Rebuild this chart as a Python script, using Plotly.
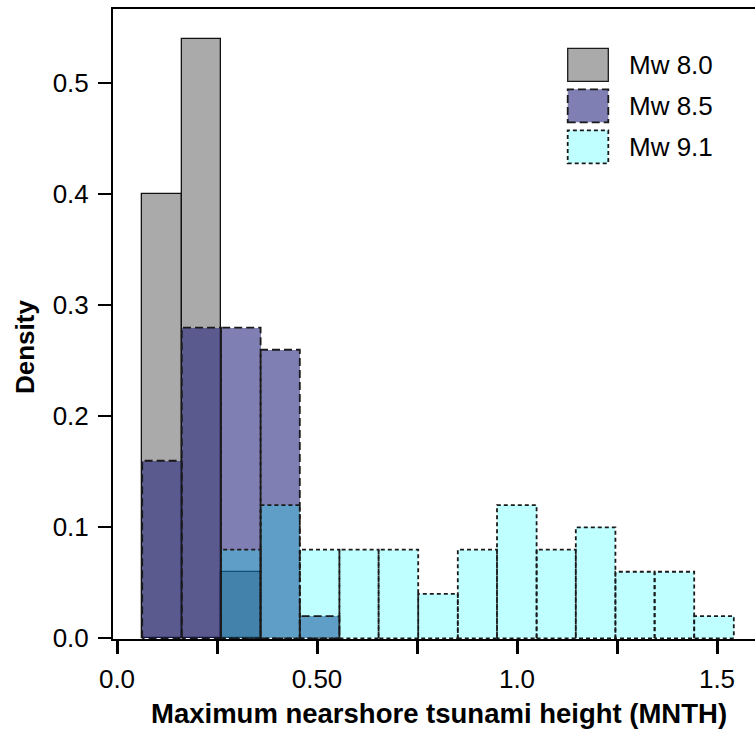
import plotly.graph_objects as go

# ---- data ----
bin_edges = [0.063, 0.162, 0.260, 0.359, 0.457, 0.556, 0.654, 0.753,
             0.852, 0.950, 1.049, 1.147, 1.246, 1.344, 1.443, 1.542]
mw80 = [0.40, 0.54, 0.06, 0, 0, 0, 0, 0, 0, 0, 0, 0, 0, 0, 0]
mw85 = [0.16, 0.28, 0.28, 0.26, 0.02, 0, 0, 0, 0, 0, 0, 0, 0, 0, 0]
mw91 = [0, 0, 0.08, 0.12, 0.08, 0.08, 0.08, 0.04, 0.08, 0.12, 0.08, 0.10, 0.06, 0.06, 0.02]
series_names = ["Mw 8.0", "Mw 8.5", "Mw 9.1"]
x_tickvals = [0, 0.25, 0.5, 0.75, 1.0, 1.25, 1.5]
x_ticktext = ["0.0", "", "0.50", "", "1.0", "", "1.5"]
y_tickvals = [0, 0.1, 0.2, 0.3, 0.4, 0.5]
y_ticktext = ["0.0", "0.1", "0.2", "0.3", "0.4", "0.5"]

# ---- styles ----
FONT = "Liberation Sans, Arial, Helvetica, sans-serif"
fills = ["#aaaaaa", "rgba(26,26,121,0.56)", "rgba(0,255,255,0.25)"]
dashes = ["solid", "8px,4px", "4px,3px"]
W, H = 755, 734
L, R, T, B = 113, 755, 9, 639  # plot area in pixels


def bars_for(vals):
    xs, ys, ws = [], [], []
    for i, v in enumerate(vals):
        if v > 0:
            l, r = bin_edges[i], bin_edges[i + 1]
            xs.append((l + r) / 2)
            ys.append(v)
            ws.append(r - l)
    return xs, ys, ws


def outline_for(vals):
    px, py = [], []
    for i, v in enumerate(vals):
        if v > 0:
            l, r = bin_edges[i], bin_edges[i + 1]
            px += [l, l, r, r, l, None]
            py += [0, v, v, 0, 0, None]
    return px, py


fig = go.Figure()
for k, vals in enumerate([mw80, mw85, mw91]):
    xs, ys, ws = bars_for(vals)
    if k == 0:
        fig.add_trace(go.Bar(x=xs, y=ys, width=ws, name=series_names[k],
                             marker=dict(color=fills[k], line=dict(color="#111", width=1.3)),
                             showlegend=False, hoverinfo="skip"))
    else:
        fig.add_trace(go.Bar(x=xs, y=ys, width=ws, name=series_names[k],
                             marker=dict(color=fills[k], line=dict(width=0)),
                             showlegend=False, hoverinfo="skip"))
        ox, oy = outline_for(vals)
        fig.add_trace(go.Scatter(x=ox, y=oy, mode="lines",
                                 line=dict(color="#1a1a1a", width=1.8, dash=dashes[k]),
                                 showlegend=False, hoverinfo="skip", cliponaxis=False))


def px2x(p):
    return (p - L) / (R - L)


def px2y(p):
    return (B - p) / (B - T)


shapes = []
annotations = []
for k, name in enumerate(series_names):
    top = 48.3 + 41 * k
    bot = top + 33
    shapes.append(dict(type="rect", xref="paper", yref="paper",
                       x0=px2x(567.7), x1=px2x(608.3), y0=px2y(bot), y1=px2y(top),
                       fillcolor=fills[k],
                       line=dict(color="#1a1a1a", width=1.8 if k else 1.3, dash=dashes[k])))
    annotations.append(dict(xref="paper", yref="paper", x=px2x(627), y=px2y((top + bot) / 2),
                            text=name, showarrow=False, xanchor="left", yanchor="middle",
                            font=dict(family=FONT, size=26, color="black")))

annotations.append(dict(xref="paper", yref="paper", x=px2x(438.5), y=px2y(713),
                        text="<b>Maximum nearshore tsunami height (MNTH)</b>",
                        showarrow=False, xanchor="center", yanchor="middle",
                        font=dict(family=FONT, size=27.5, color="black")))
annotations.append(dict(xref="paper", yref="paper", x=px2x(25), y=px2y(347),
                        text="<b>Density</b>", textangle=-90,
                        showarrow=False, xanchor="center", yanchor="middle",
                        font=dict(family=FONT, size=26, color="black")))

fig.update_layout(
    width=W, height=H,
    margin=dict(l=L, r=W - R, t=T, b=H - B, pad=0, autoexpand=False),
    paper_bgcolor="white", plot_bgcolor="white",
    barmode="overlay", bargap=0,
    shapes=shapes, annotations=annotations,
    font=dict(family=FONT, size=26, color="black"),
    xaxis=dict(range=[(L - 117) / 400, (R - 117) / 400],
               tickmode="array", tickvals=x_tickvals, ticktext=x_ticktext,
               ticks="outside", ticklen=13, tickwidth=3, tickcolor="black",
               showline=True, linecolor="black", linewidth=2, mirror=True,
               showgrid=False, zeroline=False, ticklabelstandoff=3, automargin=False,
               tickfont=dict(family=FONT, size=26, color="black")),
    yaxis=dict(range=[-0.0006, 0.567],
               tickmode="array", tickvals=y_tickvals, ticktext=y_ticktext,
               ticks="outside", ticklen=13, tickwidth=2, tickcolor="black",
               showline=True, linecolor="black", linewidth=2, mirror=False,
               showgrid=False, zeroline=False, ticklabelstandoff=4, automargin=False,
               tickfont=dict(family=FONT, size=26, color="black")),
)

fig.write_html("out.html", config={"displayModeBar": False},
               post_script="document.body.style.margin='0px';")
